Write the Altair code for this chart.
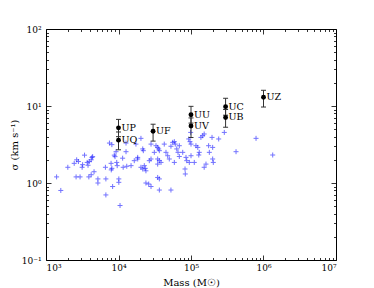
import altair as alt
import pandas as pd

# Cluster sample (blue crosses): mass in Msun, velocity dispersion in km/s
mass = [1400, 1600, 2000, 2450, 2650, 2800, 2600, 2950, 3150, 3200,
        3400, 3700, 3800, 3950, 4200, 4300, 4400, 3900, 4200, 4600,
        5200, 5200, 6600, 6700, 6700, 7500, 8100, 7900, 8100, 7950,
        8300, 8750, 8950, 9250, 9450, 9600, 10100, 10100, 10500, 11400,
        11600, 13000, 12700, 14900, 16500, 20400, 17400, 21600, 22000, 18400,
        18400, 20400, 21600, 22700, 23400, 23900, 28100, 26600, 28100, 32900,
        34700, 35800, 31200, 34700, 36600, 38600, 34700, 36600, 34700, 36600,
        23900, 26100, 28100, 36600, 42800, 45200, 47700, 50200, 52900, 55900,
        52900, 58900, 60700, 58900, 63600, 66200, 69000, 69000, 76900, 82700,
        83400, 85300, 87300, 93000, 96800, 100000, 94800, 100000, 111000, 117000,
        124000, 130000, 128000, 137000, 145000, 152000, 161000, 152000, 179000, 175000,
        199000, 195000, 199000, 203000, 241000, 288000, 789000, 418000, 1340000, 99000,
        12700]
sigma = [1.2, 0.8, 1.6, 1.8, 2.0, 1.9, 1.2, 1.2, 1.6, 1.73,
         2.3, 1.85, 1.7, 1.9, 2.0, 2.15, 2.2, 1.2, 1.28, 1.4,
         1.13, 1.0, 1.6, 1.13, 0.7, 3.3, 3.15, 1.8, 1.55, 1.48,
         0.9, 2.3, 2.2, 2.55, 1.85, 1.68, 1.13, 1.02, 0.51, 2.1,
         1.6, 1.65, 3.3, 1.68, 1.95, 3.8, 3.2, 2.77, 2.63, 2.15,
         2.05, 1.6, 1.52, 1.68, 1.55, 1.44, 2.05, 1.95, 3.2, 3.05,
         2.9, 2.77, 2.5, 2.05, 1.95, 1.85, 1.76, 2.63, 1.18, 1.13,
         1.0, 0.97, 0.9, 0.81, 3.2, 2.5, 2.26, 2.05, 3.0, 3.37,
         0.81, 3.44, 3.2, 1.85, 2.77, 2.5, 2.21, 3.05, 2.5, 1.52,
         1.31, 2.15, 1.95, 3.73, 3.44, 3.2, 1.85, 2.26, 1.85, 3.05,
         2.9, 2.5, 2.31, 3.91, 4.11, 4.33, 1.76, 1.6, 2.5, 3.05,
         2.9, 3.91, 2.05, 1.85, 3.73, 4.54, 3.8, 2.55, 2.31, 4.54,
         2.55]

# Labelled clusters (black points with error bars)
names = ["UP", "UQ", "UF", "UU", "UV", "UC", "UB", "UZ"]
cl_mass = [1e4, 1e4, 3e4, 1e5, 1e5, 3e5, 3e5, 1e6]
cl_sigma = [5.2, 3.6, 4.7, 7.7, 5.5, 9.8, 7.1, 13.0]
cl_lo = [4.0, 2.7, 3.5, 6.0, 3.9, 7.6, 5.3, 9.7]
cl_hi = [6.7, 4.6, 5.8, 9.9, 7.0, 12.6, 9.0, 16.0]

# Axis ticks
x_major = [1e3, 1e4, 1e5, 1e6, 1e7]
x_major_labels = ["10³", "10⁴", "10⁵", "10⁶", "10⁷"]
y_major = [0.1, 1, 10, 100]
y_major_labels = ["10⁻¹", "10⁰", "10¹", "10²"]
x_minor = [m * d for d in [1e3, 1e4, 1e5, 1e6] for m in range(2, 10)]
y_minor = [m * d for d in [0.1, 1, 10] for m in range(2, 10)]

SERIF = "DejaVu Serif, Liberation Serif, serif"

df_pts = pd.DataFrame({"mass": mass, "sigma": sigma})
df_cl = pd.DataFrame({"name": names, "mass": cl_mass, "sigma": cl_sigma,
                      "lo": cl_lo, "hi": cl_hi})

xs = alt.Scale(type="log", domain=[1e3, 1e7], nice=False)
ys = alt.Scale(type="log", domain=[0.1, 100], nice=False)


def label_expr(vals, labs):
    v = ",".join(repr(float(x)) for x in vals)
    l = ",".join("'" + s + "'" for s in labs)
    return f"[{l}][indexof([{v}], datum.value)]"


def axis(orient, values, size, labels=None, title=None, label_pad=4, title_pad=4):
    kw = dict(orient=orient, values=values, tickSize=size, offset=-size,
              domain=False, grid=False, tickColor="black", tickWidth=0.8)
    if labels is not None:
        kw.update(labels=True, labelExpr=label_expr(values, labels),
                  labelFont=SERIF, labelFontSize=9, labelColor="black",
                  labelPadding=label_pad)
    else:
        kw.update(labels=False)
    if title is not None:
        kw.update(title=title, titleFont=SERIF, titleFontSize=10,
                  titleFontWeight="normal", titleColor="black",
                  titlePadding=title_pad)
    return alt.Axis(**kw)


ax_xb_major = axis("bottom", x_major, 5, x_major_labels, "Mass (M☉)",
                   label_pad=3, title_pad=5)
ax_yl_major = axis("left", y_major, 5, y_major_labels, "σ (km s⁻¹)",
                   label_pad=5, title_pad=2)
ax_xb_minor = axis("bottom", x_minor, 2.5)
ax_yl_minor = axis("left", y_minor, 2.5)
ax_xt_major = axis("top", x_major, 5)
ax_yr_major = axis("right", y_major, 5)
ax_xt_minor = axis("top", x_minor, 2.5)
ax_yr_minor = axis("right", y_minor, 2.5)

pts = alt.Chart(df_pts).mark_point(
    shape="M-1,0L1,0M0,-1L0,1", filled=False, size=25,
    color="#0000ff", opacity=0.55, strokeWidth=1
).encode(
    x=alt.X("mass:Q", scale=xs, axis=ax_xb_major),
    y=alt.Y("sigma:Q", scale=ys, axis=ax_yl_major),
)

rules = alt.Chart(df_cl).mark_rule(color="#333333", strokeWidth=1).encode(
    x=alt.X("mass:Q", scale=xs, axis=ax_xb_minor, title=None),
    y=alt.Y("lo:Q", scale=ys, axis=ax_yl_minor, title=None),
    y2="hi:Q",
)

caps_lo = alt.Chart(df_cl).mark_tick(
    orient="horizontal", size=5, thickness=1, color="#333333", opacity=1
).encode(
    x=alt.X("mass:Q", scale=xs, axis=ax_xt_major, title=None),
    y=alt.Y("lo:Q", scale=ys, axis=ax_yr_major, title=None),
)

caps_hi = alt.Chart(df_cl).mark_tick(
    orient="horizontal", size=5, thickness=1, color="#333333", opacity=1
).encode(
    x=alt.X("mass:Q", scale=xs, axis=ax_xt_minor, title=None),
    y=alt.Y("hi:Q", scale=ys, axis=ax_yr_minor, title=None),
)

circles = alt.Chart(df_cl).mark_circle(size=24, color="black", opacity=1).encode(
    x=alt.X("mass:Q", scale=xs, axis=None),
    y=alt.Y("sigma:Q", scale=ys, axis=None),
)

texts = alt.Chart(df_cl).mark_text(
    align="left", baseline="middle", dx=3, dy=0, font=SERIF,
    fontSize=9.5, color="black"
).encode(
    x=alt.X("mass:Q", scale=xs, axis=None),
    y=alt.Y("sigma:Q", scale=ys, axis=None),
    text="name:N",
)

chart = alt.layer(pts, rules, caps_lo, caps_hi, circles, texts).resolve_axis(
    x="independent", y="independent"
).properties(
    width=290, height=231,
    padding={"left": 38, "top": 21, "right": 20, "bottom": 28},
    autosize=alt.AutoSizeParams(type="none"),
).configure_view(stroke="black", strokeWidth=1)

chart.save("out.html", embed_options={"renderer": "svg", "actions": False})
